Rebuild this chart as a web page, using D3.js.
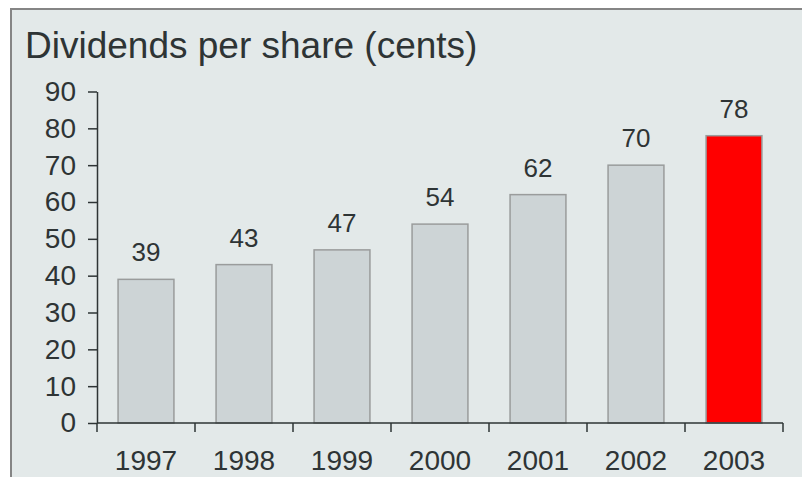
<!DOCTYPE html>
<html>
<head>
<meta charset="utf-8">
<script src="https://cdn.jsdelivr.net/npm/d3@7"></script>
<style>
  html, body { margin: 0; padding: 0; background: #ffffff; }
  svg { display: block; }
  text { font-family: "Liberation Sans", Arial, Helvetica, sans-serif; fill: #2e3435; }
</style>
</head>
<body>
<svg id="chart" width="802" height="477"></svg>
<script>
// Dividends per share, in cents, by financial year
const years = ["1997", "1998", "1999", "2000", "2001", "2002", "2003"];
const dividends = [39, 43, 47, 54, 62, 70, 78];
const yTicks = [0, 10, 20, 30, 40, 50, 60, 70, 80, 90];
const highlightYear = "2003";

const svg = d3.select("#chart");

// panel with a grey frame on the top and left edges
svg.append("rect")
  .attr("x", 11).attr("y", 9)
  .attr("width", 802).attr("height", 480)
  .attr("fill", "#e3e9e9");
svg.append("path")
  .attr("d", "M11,490 V9 H802")
  .attr("fill", "none")
  .attr("stroke", "#858585")
  .attr("stroke-width", 2);

svg.append("text")
  .attr("x", 25).attr("y", 58)
  .attr("font-size", 37)
  .text("Dividends per share (cents)");

const x = d3.scaleBand()
  .domain(years)
  .range([97, 783])
  .paddingInner(0.43)
  .paddingOuter(0.215);

const y = d3.scaleLinear()
  .domain([0, 90])
  .range([423, 91.5]);

const rows = years.map((yr, i) => ({ year: yr, value: dividends[i] }));

// bars
svg.append("g")
  .selectAll("rect")
  .data(rows)
  .join("rect")
  .attr("x", d => x(d.year))
  .attr("y", d => y(d.value))
  .attr("width", x.bandwidth())
  .attr("height", d => y(0) - y(d.value))
  .attr("fill", d => d.year === highlightYear ? "#ff0000" : "#cdd4d6")
  .attr("stroke", "#9a9c9c")
  .attr("stroke-width", 1.5);

// value labels
svg.append("g")
  .selectAll("text")
  .data(rows)
  .join("text")
  .attr("x", d => x(d.year) + x.bandwidth() / 2)
  .attr("y", d => y(d.value) - 18)
  .attr("text-anchor", "middle")
  .attr("font-size", 26)
  .text(d => d.value);

// y axis
const yAxis = svg.append("g")
  .attr("transform", "translate(97,0)")
  .call(d3.axisLeft(y).tickValues(yTicks).tickSize(9).tickPadding(12).tickSizeOuter(0));
yAxis.select(".domain").attr("stroke", "#2e3435").attr("stroke-width", 1.5);
yAxis.selectAll(".tick line").attr("stroke", "#2e3435").attr("stroke-width", 1.5);
yAxis.selectAll(".tick text")
  .attr("font-size", 28)
  .attr("font-family", "Liberation Sans, Arial, sans-serif")
  .attr("fill", "#2e3435");

// x axis: labels at band centres, tick marks at band boundaries
const xAxis = svg.append("g")
  .attr("transform", `translate(0,${y(0)})`)
  .call(d3.axisBottom(x).tickSize(0).tickSizeOuter(0));
xAxis.select(".domain").remove();
xAxis.selectAll(".tick text")
  .attr("y", 47)
  .attr("dy", 0)
  .attr("font-size", 28)
  .attr("font-family", "Liberation Sans, Arial, sans-serif")
  .attr("fill", "#2e3435");

const [x0, x1] = x.range();
const gap = x.step() * x.paddingInner() / 2;
const boundaries = [x0].concat(years.map(yr => x(yr) + x.bandwidth() + gap));
xAxis.append("line")
  .attr("x1", x0).attr("x2", x1)
  .attr("stroke", "#2e3435").attr("stroke-width", 1.5);
xAxis.selectAll(".sep")
  .data(boundaries)
  .join("line")
  .attr("class", "sep")
  .attr("x1", d => d).attr("x2", d => d)
  .attr("y1", 0).attr("y2", 9)
  .attr("stroke", "#2e3435").attr("stroke-width", 1.5);
</script>
</body>
</html>
